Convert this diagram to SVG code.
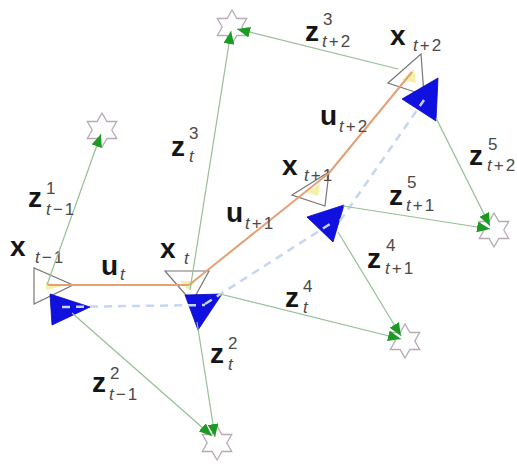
<svg xmlns="http://www.w3.org/2000/svg" width="517" height="464" viewBox="0 0 517 464">
<defs>
<style>
.bg{fill:#ffffff}
.star{fill:#ffffff;stroke:#b6aab6;stroke-width:1.3}
.pose{fill:none;stroke:#777777;stroke-width:1.2}
.hint{fill:#f3f0a8;stroke:none}
.est{fill:#1010e0;stroke:#0808c0;stroke-width:0.8}
.meas{stroke:#95bf95;stroke-width:1.2;fill:none;marker-end:url(#ah)}
.odo{stroke:#e5a077;stroke-width:2;fill:none}
.dash{stroke:#c6d6f2;stroke-width:2.5;stroke-dasharray:8 6;fill:none}
.m{font-family:"Liberation Sans",Arial,sans-serif;font-weight:bold;font-size:28px;fill:#151515}
.s{font-family:"Liberation Sans",Arial,sans-serif;font-size:17px;fill:#4a4a4a}
.i{font-style:italic}
</style>
<marker id="ah" viewBox="0 0 12 10" refX="12" refY="5" markerWidth="13" markerHeight="11" markerUnits="userSpaceOnUse" orient="auto">
<path d="M0,0 L12,5 L0,10 z" fill="#1b9b22"/>
</marker>
<polygon id="hex" points="0,-17 4.9,-8.5 14.72,-8.5 9.8,0 14.72,8.5 4.9,8.5 0,17 -4.9,8.5 -14.72,8.5 -9.8,0 -14.72,-8.5 -4.9,-8.5"/>
</defs>
<rect class="bg" x="0" y="0" width="517" height="464"/>

<g id="landmark1"><use href="#hex" class="star" x="102" y="130"/></g>
<g id="landmark2"><use href="#hex" class="star" x="217" y="443"/></g>
<g id="landmark3"><use href="#hex" class="star" x="232" y="27"/></g>
<g id="landmark4"><use href="#hex" class="star" x="405" y="341"/></g>
<g id="landmark5"><use href="#hex" class="star" x="494" y="230"/></g>

<g id="pose_tm1">
<polygon class="pose" points="34,268 34,304 73,285"/>
<polygon class="hint" points="46,282 62,286 46,290"/>
<polygon class="est" points="50,294 90,307 52,325"/>
<text class="m" x="10" y="256">x</text><text class="s" x="35" y="263"><tspan class="i">t</tspan><tspan dx="2">−</tspan><tspan dx="2">1</tspan></text>
</g>
<g id="pose_t">
<polygon class="pose" points="165,271 209,271 192,302"/>
<polygon class="hint" points="180,281 196,281 188,290"/>
<polygon class="est" points="185,295 222,294 198,330"/>
<text class="m" x="160" y="258">x</text><text class="s i" x="184" y="264">t</text>
</g>
<g id="pose_tp1">
<polygon class="pose" points="292,195 329,172 325,206"/>
<polygon class="hint" points="306,192 320,184 318,196"/>
<polygon class="est" points="307,217 344,205 333,242"/>
<text class="m" x="282" y="175">x</text><text class="s" x="304" y="181"><tspan class="i">t</tspan><tspan dx="2">+</tspan><tspan dx="2">1</tspan></text>
</g>
<g id="pose_tp2">
<polygon class="pose" points="388,83 421,54 424,95"/>
<polygon class="hint" points="402,80 414,69 416,83"/>
<polygon class="est" points="402,99 438,78 436,121"/>
<text class="m" x="390" y="45">x</text><text class="s" x="413" y="51"><tspan class="i">t</tspan><tspan dx="2">+</tspan><tspan dx="2">2</tspan></text>
</g>

<g id="connectors">
<line class="odo" x1="48" y1="285" x2="189" y2="285"/>
<line class="odo" x1="189" y1="285" x2="329" y2="173"/>
<line class="odo" x1="329" y1="173" x2="412" y2="72"/>
<line class="dash" x1="62" y1="307" x2="205" y2="305"/>
<line class="dash" x1="205" y1="304" x2="330" y2="224"/>
<line class="dash" x1="340" y1="221" x2="424" y2="100"/>
<line class="meas" x1="47" y1="285" x2="101" y2="134"/>
<line class="meas" x1="72" y1="313" x2="212" y2="436"/>
<line class="meas" x1="190" y1="290" x2="231" y2="31"/>
<line class="meas" x1="398" y1="69" x2="237" y2="29"/>
<line class="meas" x1="197" y1="322" x2="215" y2="437"/>
<line class="meas" x1="220" y1="294" x2="401" y2="339"/>
<line class="meas" x1="338" y1="232" x2="401" y2="336"/>
<line class="meas" x1="343" y1="206" x2="490" y2="229"/>
<line class="meas" x1="436" y1="118" x2="490" y2="226"/>

<g id="lbl_u_t"><text class="m" x="101" y="275">u</text><text class="s i" x="120" y="280">t</text></g>
<g id="lbl_u_tp1"><text class="m" x="226" y="222">u</text><text class="s" x="245" y="229"><tspan class="i">t</tspan><tspan dx="2">+</tspan><tspan dx="2">1</tspan></text></g>
<g id="lbl_u_tp2"><text class="m" x="320" y="125">u</text><text class="s" x="339" y="132"><tspan class="i">t</tspan><tspan dx="2">+</tspan><tspan dx="2">2</tspan></text></g>
<g id="lbl_z1_tm1"><text class="m" x="28" y="207">z</text><text class="s" x="46" y="194">1</text><text class="s" x="46" y="215"><tspan class="i">t</tspan><tspan dx="2">−</tspan><tspan dx="2">1</tspan></text></g>
<g id="lbl_z2_tm1"><text class="m" x="92" y="392">z</text><text class="s" x="110" y="379">2</text><text class="s" x="109" y="400"><tspan class="i">t</tspan><tspan dx="2">−</tspan><tspan dx="2">1</tspan></text></g>
<g id="lbl_z3_t"><text class="m" x="171" y="156">z</text><text class="s" x="189" y="139">3</text><text class="s i" x="189" y="162">t</text></g>
<g id="lbl_z2_t"><text class="m" x="210" y="363">z</text><text class="s" x="228" y="349">2</text><text class="s i" x="228" y="370">t</text></g>
<g id="lbl_z4_t"><text class="m" x="285" y="307">z</text><text class="s" x="303" y="292">4</text><text class="s i" x="303" y="313">t</text></g>
<g id="lbl_z3_tp2"><text class="m" x="305" y="41">z</text><text class="s" x="323" y="25">3</text><text class="s" x="322" y="47"><tspan class="i">t</tspan><tspan dx="2">+</tspan><tspan dx="2">2</tspan></text></g>
<g id="lbl_z5_tp1"><text class="m" x="389" y="205">z</text><text class="s" x="407" y="188">5</text><text class="s" x="406" y="211"><tspan class="i">t</tspan><tspan dx="2">+</tspan><tspan dx="2">1</tspan></text></g>
<g id="lbl_z4_tp1"><text class="m" x="367" y="268">z</text><text class="s" x="386" y="251">4</text><text class="s" x="385" y="274"><tspan class="i">t</tspan><tspan dx="2">+</tspan><tspan dx="2">1</tspan></text></g>
<g id="lbl_z5_tp2"><text class="m" x="469" y="165">z</text><text class="s" x="488" y="150">5</text><text class="s" x="487" y="171"><tspan class="i">t</tspan><tspan dx="2">+</tspan><tspan dx="2">2</tspan></text></g>
</g>
</svg>
